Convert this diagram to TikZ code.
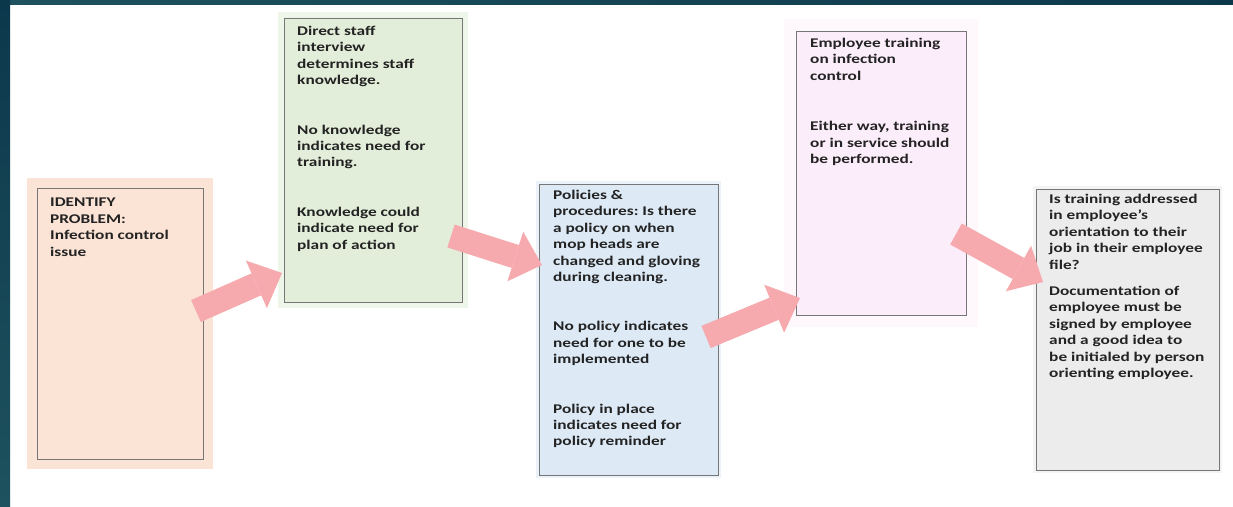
\documentclass[tikz,border=0pt]{standalone}
\usepackage{fontspec}
\setmainfont{Carlito}[FakeStretch=1.3]
\frenchspacing
\usetikzlibrary{arrows.meta}

\definecolor{framedark}{RGB}{12,56,76}
\definecolor{frameteal}{RGB}{30,82,94}
\definecolor{boxline}{RGB}{118,118,118}
\definecolor{peach}{RGB}{251,228,214}
\definecolor{sage}{RGB}{226,238,218}
\definecolor{sky}{RGB}{221,234,246}
\definecolor{blush}{RGB}{252,237,250}
\definecolor{mist}{RGB}{236,236,236}
\definecolor{arrowpink}{RGB}{246,170,174}
\definecolor{ink}{RGB}{35,35,35}

\tikzset{
  stage/.style={draw=boxline, line width=0.9pt, anchor=north west, inner sep=0pt},
  glow/.style 2 args={preaction={draw=#1, line width=#2}},
  note/.style={anchor=north west, inner sep=0pt, align=left, text=ink,
    font=\bfseries\fontsize{13.3}{16.4}\selectfont},
  flow/.style={draw=arrowpink, line width=24pt,
    -{Triangle[width=52pt, length=28pt, line width=0pt]}},
}

\begin{document}
\begin{tikzpicture}[x=1pt, y=-1pt]
    \useasboundingbox (0,0) rectangle (1233,506);
    \fill[white] (0,0) rectangle (1233,506);

    % Rahmen
    \fill[left color=frameteal, right color=framedark] (0,0) rectangle (1233,4);
    \fill[top color=framedark, bottom color=frameteal] (0,0) rectangle (10,506);

    % Kaesten
    \node[stage, fill=peach, glow={peach}{20pt}, minimum width=166pt, minimum height=271pt] (identify) at (37,188) {};
    \node[stage, fill=sage, glow={sage!60!white}{12pt}, minimum width=178pt, minimum height=284pt] (interview) at (284,18) {};
    \node[stage, fill=sky, glow={sky!60!white}{6pt}, minimum width=179pt, minimum height=291pt] (policy) at (539,184) {};
    \node[stage, fill=blush, glow={blush!40!white}{24pt}, minimum width=170pt, minimum height=284pt] (training) at (796,31) {};
    \node[stage, fill=mist, glow={mist!60!white}{6pt}, minimum width=183pt, minimum height=281pt] (orientation) at (1036,189) {};

    % Texte
    \node[note] (identifyText) at ([shift={(13,10)}]identify.north west)
      {IDENTIFY\\PROBLEM:\\Infection control\\issue};
    \node[note] (interviewText) at ([shift={(13,8)}]interview.north west)
      {Direct staff\\interview\\determines staff\\knowledge.\\[33pt]
       No knowledge\\indicates need for\\training.\\[33pt]
       Knowledge could\\indicate need for\\plan of action};
    \node[note] (policyText) at ([shift={(14,6)}]policy.north west)
      {Policies \&\\procedures: Is there\\a policy on when\\mop heads are\\changed and gloving\\during cleaning.\\[33pt]
       No policy indicates\\need for one to be\\implemented\\[33pt]
       Policy in place\\indicates need for\\policy reminder};
    \node[note] (trainingText) at ([shift={(14,7)}]training.north west)
      {Employee training\\on infection\\control\\[34pt]
       Either way, training\\or in service should\\be performed.};
    \node[note] (orientationText) at ([shift={(13,5)}]orientation.north west)
      {Is training addressed\\in employee’s\\orientation to their\\job in their employee\\file?\\[10pt]
       Documentation of\\employee must be\\signed by employee\\and a good idea to\\be initialed by person\\orienting employee.};

    % Pfeile
    \coordinate (a1s) at (196,311);
    \coordinate (a1e) at (282,273);
    \coordinate (a2s) at (451,236);
    \coordinate (a2e) at (542,265);
    \coordinate (a3s) at (706,337);
    \coordinate (a3e) at (800,298);
    \coordinate (a4s) at (956,234);
    \coordinate (a4e) at (1043,282);
    \draw[flow] (a1s) -- (a1e);
    \draw[flow] (a2s) -- (a2e);
    \draw[flow] (a3s) -- (a3e);
    \draw[flow] (a4s) -- (a4e);
\end{tikzpicture}
\end{document}
